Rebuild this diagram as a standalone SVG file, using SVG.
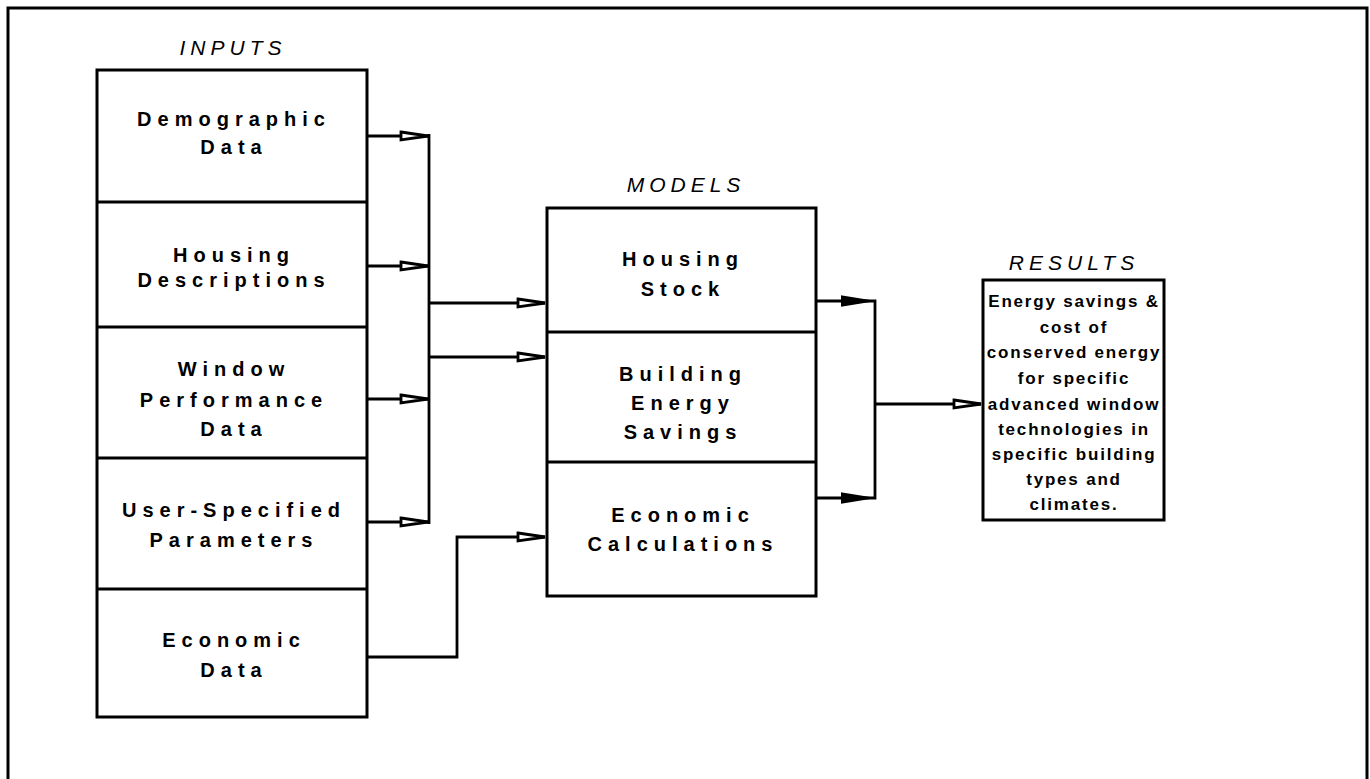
<svg xmlns="http://www.w3.org/2000/svg" width="1370" height="779" viewBox="0 0 1370 779">
<style>
.box{fill:#fff;stroke:#000;stroke-width:3}
.div{stroke:#000;stroke-width:3;fill:none}
.con{stroke:#000;stroke-width:2.8;fill:none}
.hd{font-family:"Liberation Sans",Arial,sans-serif;font-style:italic;font-size:21px;letter-spacing:5px;text-anchor:middle;fill:#000}
.t{font-family:"Liberation Sans",Arial,sans-serif;font-weight:bold;font-size:20px;letter-spacing:6px;text-anchor:middle;fill:#000}
.r{font-family:"Liberation Sans",Arial,sans-serif;font-weight:bold;font-size:17px;letter-spacing:1.8px;text-anchor:middle;fill:#000}
</style>
<defs>
<marker id="ah" markerUnits="userSpaceOnUse" markerWidth="32" markerHeight="14" viewBox="0 0 32 14" refX="30" refY="7" orient="auto">
<path d="M3,3 L30,7 L3,11 Z" fill="#fff" stroke="#000" stroke-width="2.8" stroke-linejoin="miter"/>
</marker>
<marker id="ahf" markerUnits="userSpaceOnUse" markerWidth="32" markerHeight="14" viewBox="0 0 32 14" refX="30" refY="7" orient="auto">
<path d="M2,2.5 L30,7 L2,11.5 Z" fill="#000" stroke="#000" stroke-width="2"/>
</marker>
</defs>
<rect x="0" y="0" width="1370" height="779" fill="#fff"/>
<g id="frame"><rect x="8" y="8" width="1359" height="820" fill="none" stroke="#000" stroke-width="3"/></g>

<text class="hd" x="233" y="55">INPUTS</text>
<text class="hd" x="686" y="192">MODELS</text>
<text class="hd" x="1074" y="270">RESULTS</text>

<g id="inputs">
<rect class="box" x="97" y="70" width="270" height="647"/>
<g id="in-demographic">
<line class="div" x1="97" y1="202" x2="367" y2="202"/>
<text class="t" x="234" y="126">Demographic</text>
<text class="t" x="234" y="154">Data</text>
</g>
<g id="in-housing">
<line class="div" x1="97" y1="327" x2="367" y2="327"/>
<text class="t" x="234" y="262">Housing</text>
<text class="t" x="234" y="287">Descriptions</text>
</g>
<g id="in-window">
<line class="div" x1="97" y1="458" x2="367" y2="458"/>
<text class="t" x="234" y="376">Window</text>
<text class="t" x="234" y="407">Performance</text>
<text class="t" x="234" y="436">Data</text>
</g>
<g id="in-user">
<line class="div" x1="97" y1="589" x2="367" y2="589"/>
<text class="t" x="234" y="517">User-Specified</text>
<text class="t" x="234" y="547">Parameters</text>
</g>
<g id="in-economic">
<text class="t" x="234" y="647">Economic</text>
<text class="t" x="234" y="677">Data</text>
</g>
</g>

<g id="models">
<rect class="box" x="547" y="208" width="269" height="388"/>
<line class="div" x1="547" y1="332" x2="816" y2="332"/>
<line class="div" x1="547" y1="462" x2="816" y2="462"/>
<g id="m-housing">
<text class="t" x="683" y="266">Housing</text>
<text class="t" x="683" y="296">Stock</text>
</g>
<g id="m-building">
<text class="t" x="683" y="381">Building</text>
<text class="t" x="683" y="410">Energy</text>
<text class="t" x="683" y="439">Savings</text>
</g>
<g id="m-economic">
<text class="t" x="683" y="522">Economic</text>
<text class="t" x="683" y="551">Calculations</text>
</g>
</g>

<g id="results">
<rect class="box" x="983" y="280" width="181" height="240"/>
<text class="r" x="1074" y="307">Energy savings &amp;</text>
<text class="r" x="1074" y="333">cost of</text>
<text class="r" x="1074" y="358">conserved energy</text>
<text class="r" x="1074" y="384">for specific</text>
<text class="r" x="1074" y="410">advanced window</text>
<text class="r" x="1074" y="435">technologies in</text>
<text class="r" x="1074" y="460">specific building</text>
<text class="r" x="1074" y="485">types and</text>
<text class="r" x="1074" y="510">climates.</text>
</g>

<g id="connectors">
<path class="con" d="M367,136 H428" marker-end="url(#ah)"/>
<path class="con" d="M367,266 H428" marker-end="url(#ah)"/>
<path class="con" d="M367,399 H428" marker-end="url(#ah)"/>
<path class="con" d="M367,522 H428" marker-end="url(#ah)"/>
<path class="con" d="M429,134 V524"/>
<path class="con" d="M429,303 H545" marker-end="url(#ah)"/>
<path class="con" d="M429,357 H545" marker-end="url(#ah)"/>
<path class="con" d="M367,657 H457 V537 H545" marker-end="url(#ah)"/>
<path class="con" d="M816,301 H870" marker-end="url(#ahf)"/>
<path class="con" d="M816,498 H870" marker-end="url(#ahf)"/>
<path class="con" d="M870,301 H875 V498 H870"/>
<path class="con" d="M875,404 H981" marker-end="url(#ah)"/>
</g>
</svg>
